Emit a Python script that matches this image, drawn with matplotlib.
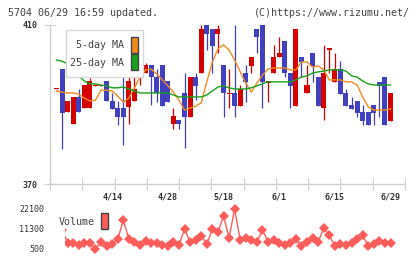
# ===================== #
#         Set up        #
# ===================== #

import numpy as np
import matplotlib
matplotlib.use("Agg")
import matplotlib.pyplot as plt
from matplotlib.patches import Rectangle

plt.rcParams['font.family'] = ['DejaVu Sans Mono']

# ===================== #
#          Data         #
# ===================== #

date_labels = ["4/14", "4/28", "5/18", "6/1", "6/15", "6/29"]
date_label_idx = [10, 20, 30, 40, 50, 60]

opens = [393.8, 398.9, 388.0, 385.0, 391.9, 389.0, 389.0, 394.7, 394.7, 395.9,
         390.9, 389.0, 389.0, 389.4, 390.8, 396.8, 397.8, 399.9, 396.8, 399.9,
         395.9, 385.1, 386.1, 392.9, 386.9, 396.9, 397.8, 410.0, 409.0, 407.7,
         399.9, 392.7, 392.9, 389.7, 397.9, 399.8, 409.0, 410.0, 395.5, 397.8,
         401.9, 406.0, 397.8, 389.7, 402.0, 392.8, 403.0, 396.9, 389.0, 403.8,
         395.7, 398.9, 392.9, 389.9, 390.9, 388.1, 388.1, 389.9, 395.7, 396.9, 385.8]
highs = [394.0, 398.9, 390.9, 391.9, 393.9, 394.9, 396.7, 395.2, 395.0, 395.9,
         393.0, 390.9, 398.7, 397.8, 396.9, 399.9, 400.5, 399.9, 398.9, 399.9,
         395.9, 389.0, 386.1, 397.9, 396.9, 397.9, 410.0, 410.0, 409.0, 410.0,
         399.9, 398.9, 410.0, 394.9, 399.9, 402.0, 409.0, 410.0, 395.7, 405.0,
         407.1, 406.0, 397.8, 409.0, 402.0, 399.9, 403.0, 396.9, 405.0, 404.0,
         403.0, 400.9, 393.9, 391.9, 390.9, 389.9, 388.1, 389.9, 395.7, 396.9, 392.9]
lows = [393.7, 378.8, 388.0, 385.0, 388.0, 389.0, 389.0, 394.6, 394.7, 390.9,
        388.9, 384.8, 379.8, 385.1, 390.8, 394.9, 397.8, 389.9, 390.7, 389.7,
        390.7, 383.8, 383.8, 379.0, 386.9, 391.1, 397.8, 403.7, 397.9, 403.0,
        386.9, 389.1, 386.9, 389.7, 390.7, 397.9, 403.0, 389.1, 390.7, 397.8,
        401.9, 396.8, 389.0, 389.7, 396.8, 392.8, 395.7, 389.7, 386.0, 397.9,
        395.7, 392.7, 389.7, 388.9, 386.9, 384.8, 384.8, 384.8, 386.9, 384.8, 385.8]
closes = [393.9, 387.9, 390.9, 391.9, 388.0, 394.9, 395.9, 394.9, 394.9, 390.9,
          388.9, 386.9, 386.9, 395.9, 393.9, 398.9, 399.9, 396.8, 392.8, 389.7,
          390.7, 387.1, 385.0, 386.9, 396.9, 394.7, 409.0, 407.7, 404.7, 409.0,
          392.8, 392.9, 389.7, 393.9, 395.7, 402.0, 406.9, 395.7, 395.7, 402.0,
          403.0, 397.8, 394.7, 409.0, 400.8, 394.9, 399.8, 389.7, 397.9, 404.0,
          398.9, 392.7, 389.7, 388.9, 387.9, 385.8, 384.8, 387.9, 394.7, 384.8, 392.9]

ma5 = [393.4, 393.1, 392.9, 392.9, 392.6, 391.6, 390.9, 391.1, 393.6, 393.6,
       393.4, 392.1, 390.6, 391.6, 394.2, 396.9, 398.7, 398.9, 397.7, 396.2,
       394.7, 393.1, 391.1, 388.6, 389.1, 389.6, 390.4, 395.7, 400.7, 404.0,
       405.0, 403.7, 401.2, 398.2, 395.4, 393.1, 395.4, 397.4, 398.9, 399.2,
       399.2, 399.2, 398.7, 398.7, 400.7, 400.7, 399.4, 399.7, 398.7, 396.2,
       396.2, 396.2, 395.7, 395.7, 394.9, 391.9, 389.4, 388.6, 388.6, 388.6, 388.9]
ma25 = [401.2, 400.9, 400.2, 398.7, 397.2, 395.9, 395.2, 395.2, 394.9, 394.7,
        394.2, 394.2, 394.4, 393.9, 393.4, 392.9, 392.9, 392.9, 392.9, 392.9,
        392.9, 392.4, 391.9, 391.9, 391.9, 391.9, 391.9, 392.4, 393.4, 394.4,
        394.7, 394.2, 393.9, 393.9, 393.9, 394.2, 394.7, 395.2, 395.7, 395.7,
        395.7, 395.7, 395.7, 396.2, 396.9, 397.2, 397.9, 398.2, 398.4, 398.7,
        398.7, 398.7, 398.4, 397.2, 396.9, 395.9, 395.2, 394.9, 394.9, 394.9, 394.9]

volume = [6000, 11000, 4100, 4100, 2800, 4100, 4100, 700, 4600, 2300,
          3200, 5900, 16300, 5900, 4600, 2800, 5000, 4100, 4100, 2800,
          2300, 4600, 2800, 11300, 4600, 5500, 7700, 3400, 11300, 9700,
          18500, 6800, 22300, 5500, 6800, 5500, 4600, 10900, 4600, 5500,
          4100, 2800, 4100, 5900, 2300, 4600, 6400, 4600, 11800, 8200,
          2300, 3400, 2800, 4100, 5900, 8200, 2300, 3400, 5000, 4100, 4100]

# ===================== #
#         Layout        #
# ===================== #

W, H = 420, 259
UP, DOWN = "#d40000", "#4040c0"
ORANGE, GREEN, VOLC = "#f08c1e", "#18a018", "#ff5c5c"
GRID = "#d0d0d0"

def fx(px):
    return px / W

def fy(py):
    return 1 - py / H

fig = plt.figure(figsize=(4.2, 2.59), dpi=100, facecolor="white")

x = np.arange(len(closes))
step = (390.5 - 56.5) / 60
xmin, xmax = (50 - 56.5) / step, (405 - 56.5) / step

# ===================== #
#       Price chart     #
# ===================== #

ax = fig.add_axes([fx(50), fy(184), fx(405) - fx(50), fy(25) - fy(184)])
o, c = np.array(opens), np.array(closes)
colors = [UP if cc >= oo else DOWN for oo, cc in zip(o, c)]
ax.vlines(x, lows, highs, colors=colors, linewidth=0.9, zorder=2)
body = np.where(np.abs(c - o) < 0.3, 0.3, c - o)
ax.bar(x, body, bottom=o, width=0.9, color=colors, linewidth=0, zorder=3)
ax.plot(x, ma5, color=ORANGE, linewidth=1.0, zorder=4)
ax.plot(x, ma25, color=GREEN, linewidth=1.0, zorder=4)

ax.set_xlim(xmin, xmax)
ax.set_ylim(370, 410)
ax.set_yticks([370, 410])
ax.set_yticklabels(["370", "410"], fontsize=6, fontweight="bold", color="#333333")
ax.set_xticks(np.linspace(xmin, xmax, 12))
ax.set_xticklabels([])
ax.tick_params(axis="y", direction="inout", length=8, color=GRID, pad=5)
ax.tick_params(axis="x", direction="inout", length=8, color=GRID)
for side in ["top", "right"]:
    ax.spines[side].set_visible(False)
for side in ["left", "bottom"]:
    ax.spines[side].set_color(GRID)
    ax.spines[side].set_linewidth(1.0)

for i, lab in zip(date_label_idx, date_labels):
    ax.text(i, -0.08, lab, transform=ax.get_xaxis_transform(), ha="center",
            va="center", fontsize=6, fontweight="bold", color="#333333")

# legend box
fig.add_artist(Rectangle((fx(65.7), fy(77.3)), fx(142.7) - fx(65.7), fy(30) - fy(77.3),
                         transform=fig.transFigure, facecolor="white",
                         edgecolor="#d8d8d8", linewidth=1.0, zorder=5))
fig.text(fx(124), fy(45), "5-day MA", ha="right", va="center", fontsize=7.2,
         color="#444444", zorder=6)
fig.text(fx(124), fy(63), "25-day MA", ha="right", va="center", fontsize=7.2,
         color="#444444", zorder=6)
for top, col in [(37, ORANGE), (54, GREEN)]:
    fig.add_artist(Rectangle((fx(131), fy(top + 15.5)), fx(137.5) - fx(131), fy(top) - fy(top + 15.5),
                             transform=fig.transFigure, facecolor=col,
                             edgecolor="#444444", linewidth=1.0, zorder=6))

# ===================== #
#        Volume         #
# ===================== #

vax = fig.add_axes([fx(65), fy(255), fx(405) - fx(65), fy(200) - fy(255)])
vax.plot(x, volume, color=VOLC, linewidth=1.0, marker="D", markersize=5,
         markeredgewidth=0, zorder=3)
vax.set_xlim((65 - 56.5) / step, xmax)
vax.set_ylim(500 - (255 - 249.3) * 540, 22100 + (209.3 - 200) * 540)
vax.axis("off")

for val, py in [("22100", 209.3), ("11300", 229.3), ("500", 249.3)]:
    fig.text(fx(44), fy(py), val, ha="right", va="center", fontsize=6, color="#333333")
fig.text(fx(58.7), fy(222), "Volume", ha="left", va="center", fontsize=7.2, color="#444444")
fig.add_artist(Rectangle((fx(101), fy(228.7)), fx(107.7) - fx(101), fy(213) - fy(228.7),
                         transform=fig.transFigure, facecolor=VOLC,
                         edgecolor="#444444", linewidth=1.0, zorder=6))

# ===================== #
#        Header         #
# ===================== #

fig.text(fx(8), fy(12.5), "5704 06/29 16:59 updated.", ha="left", va="center",
         fontsize=7.2, color="#444444")
fig.text(fx(410), fy(12.5), "(C)https://www.rizumu.net/", ha="right", va="center",
         fontsize=7.2, color="#444444")

fig.savefig("out.png", dpi=100, facecolor="white")
